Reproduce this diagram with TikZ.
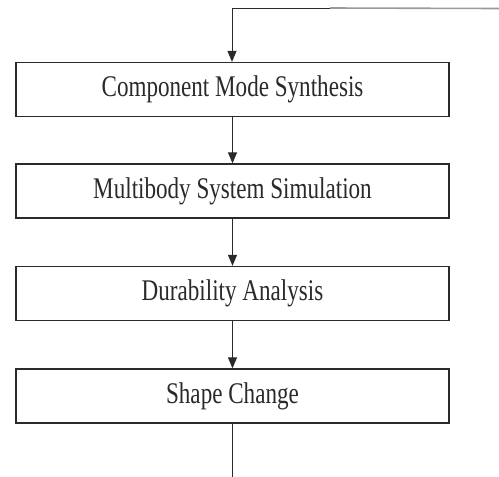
\documentclass[tikz,border=0pt]{standalone}
\usepackage{fontspec}
\usepackage{graphicx}
\setmainfont{Liberation Serif}
\usetikzlibrary{arrows.meta}
\definecolor{ink}{HTML}{2A2A2A}
\definecolor{lightline}{HTML}{9A9A9A}
\tikzset{
  stagebox/.style={draw=ink, line width=1.3pt, rectangle, minimum width=433pt, minimum height=54pt, inner sep=0pt, text=ink, font=\fontsize{30}{36}\selectfont},
  flowline/.style={draw=ink, line width=1pt},
  flowarrow/.style={flowline, -{Triangle[length=11pt,width=9pt]}}
}
\newcommand{\sq}[1]{\scalebox{0.77}[1]{#1}}
\begin{document}
\begin{tikzpicture}[x=1pt,y=-1pt]
\useasboundingbox (0,0) rectangle (499,477);
\node[stagebox] (b1) at (232.5,89.5) {\sq{Component Mode Synthesis}};
\node[stagebox] (b2) at (232.5,191) {\sq{Multibody System Simulation}};
\node[stagebox] (b3) at (232.5,293.5) {\sq{Durability Analysis}};
\node[stagebox] (b4) at (232.5,396) {\sq{Shape Change}};
\coordinate (tc) at (232,8);
\coordinate (tm) at (330,8);
\coordinate (te) at (499,8.5);
\coordinate (bend) at (232,477);
\draw[lightline, line width=1.6pt] (tm) -- (te);
\draw[flowline] (tm) -- (tc);
\draw[flowarrow] (tc) -- (b1.north -| tc);
\draw[flowarrow] (b1) -- (b2);
\draw[flowarrow] (b2) -- (b3);
\draw[flowarrow] (b3) -- (b4);
\draw[flowline] (b4.south -| bend) -- (bend);
\end{tikzpicture}
\end{document}
